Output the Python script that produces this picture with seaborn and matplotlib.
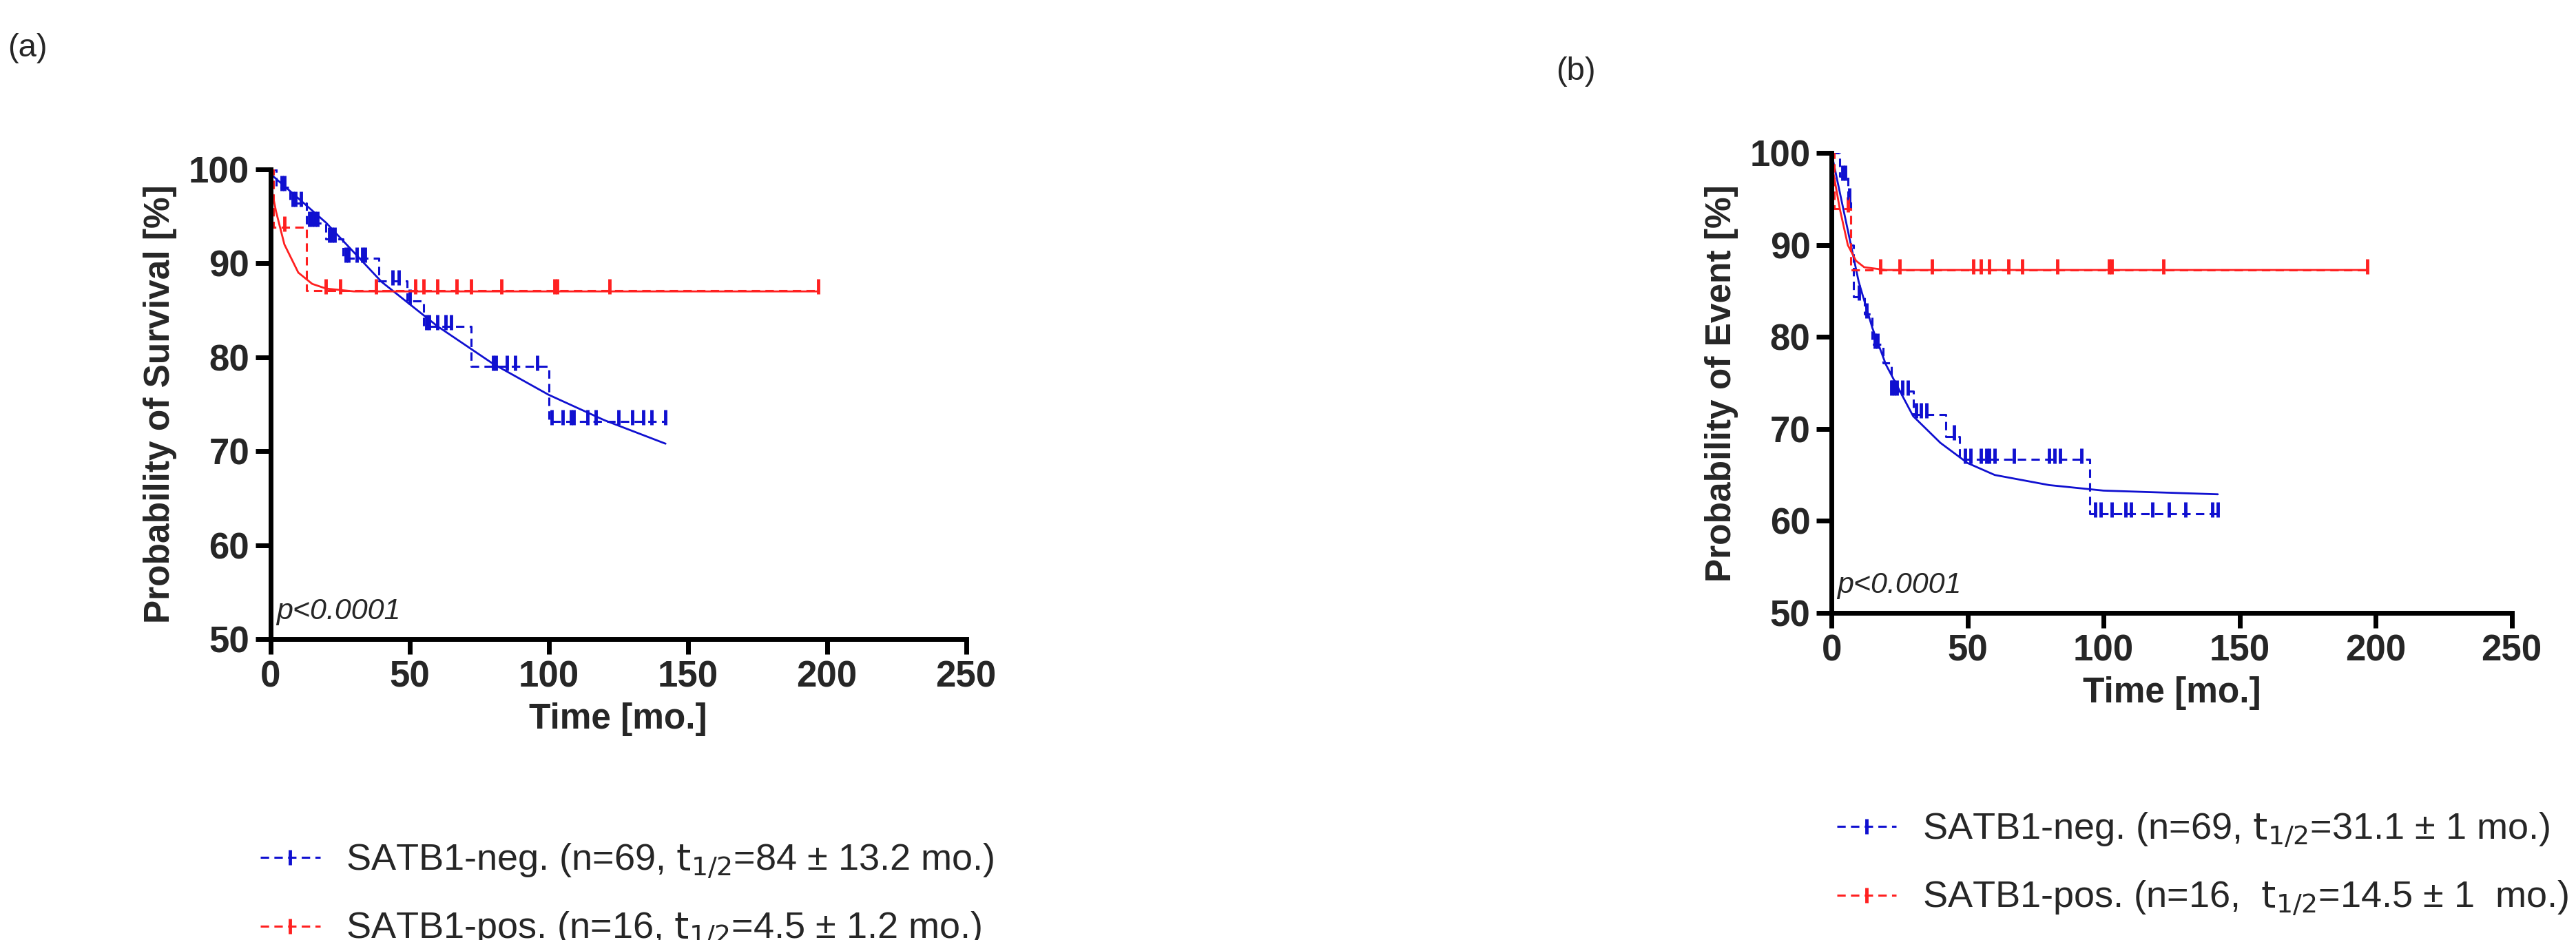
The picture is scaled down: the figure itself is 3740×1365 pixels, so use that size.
import matplotlib
matplotlib.use("Agg")
import matplotlib.pyplot as plt
import seaborn as sns
import pandas as pd
from matplotlib.lines import Line2D

sns.set_theme(style="ticks")
plt.rcParams['font.family'] = ['Arial', 'Liberation Sans', 'DejaVu Sans']

BLUE = "#1010d0"
RED = "#ff2020"

# ---- Panel (a): survival ----
a_neg_t = [0, 2, 7, 13, 20, 26, 39, 49, 55, 72, 100, 142]
a_neg_s = [100, 98.1, 96.4, 94.3, 92.6, 90.5, 88.1, 86.0, 83.3, 79.0, 73.2, 73.2]
a_neg_cens_t = [4, 5, 8, 9, 11, 14, 15, 16, 17, 21, 22, 23, 27, 28, 31, 33, 34, 44, 46, 50, 56, 57, 60, 63, 65, 80, 81, 85, 88, 96,
                101, 105, 108, 109, 114, 117, 125, 130, 134, 137, 142]
a_neg_cens_s = [98.1, 98.1, 96.4, 96.4, 96.4, 94.3, 94.3, 94.3, 94.3, 92.6, 92.6, 92.6, 90.5, 90.5, 90.5, 90.5, 90.5, 88.1, 88.1,
                86.0, 83.3, 83.3, 83.3, 83.3, 83.3, 79.0, 79.0, 79.0, 79.0, 79.0,
                73.2, 73.2, 73.2, 73.2, 73.2, 73.2, 73.2, 73.2, 73.2, 73.2, 73.2]
a_pos_t = [0, 1, 13, 197]
a_pos_s = [100, 93.8, 87.1, 87.1]
a_pos_cens_t = [5, 20, 25, 38, 52, 55, 60, 67, 72, 83, 102, 103, 122, 197]
a_pos_cens_s = [93.8] + [87.1] * 13
a_neg_fit_t = [0, 20, 40, 60, 80, 100, 120, 142]
a_neg_fit_s = [99.5, 94.3, 88.0, 83.3, 79.3, 76.0, 73.3, 70.8]
a_pos_fit_t = [0, 2, 5, 10, 15, 20, 30, 60, 197]
a_pos_fit_s = [98.5, 95.5, 92.0, 89.0, 87.8, 87.3, 87.0, 87.0, 87.0]

# ---- Panel (b): event ----
b_neg_t = [0, 3, 6, 7, 8, 12, 15, 19, 22, 30, 42, 47, 95, 143]
b_neg_s = [100, 97.5, 95.0, 90.0, 84.4, 82.5, 79.2, 77.2, 74.1, 71.6, 69.2, 66.7, 60.8, 60.8]
b_neg_cens_t = [4, 5, 6.5, 10, 13, 16, 17, 22, 23, 24, 26, 28, 31, 33, 35, 45,
                49, 51, 55, 57, 58, 60, 67, 80, 82, 84, 92,
                97, 99, 103, 108, 110, 118, 124, 130, 140, 142]
b_neg_cens_s = [97.5, 97.5, 95.0, 84.4, 82.5, 79.2, 79.2, 74.1, 74.1, 74.1, 74.1, 74.1, 71.6, 71.6, 71.6, 69.2,
                66.7, 66.7, 66.7, 66.7, 66.7, 66.7, 66.7, 66.7, 66.7, 66.7, 66.7,
                60.8, 60.8, 60.8, 60.8, 60.8, 60.8, 60.8, 60.8, 60.8, 60.8]
b_pos_t = [0, 1, 7, 197]
b_pos_s = [100, 94.0, 87.3, 87.3]
b_pos_cens_t = [6, 18, 25, 37, 52, 55, 58, 65, 70, 83, 102, 103, 122, 197]
b_pos_cens_s = [94.0] + [87.3] * 13
b_neg_fit_t = [0, 5, 10, 15, 20, 30, 40, 50, 60, 80, 100, 142]
b_neg_fit_s = [100, 93.0, 86.0, 81.0, 77.0, 71.4, 68.5, 66.3, 65.0, 63.9, 63.3, 62.9]
b_pos_fit_t = [0, 3, 6, 9, 12, 20, 60, 197]
b_pos_fit_s = [99, 94.0, 90.0, 88.3, 87.6, 87.3, 87.3, 87.3]

xticks = [0, 50, 100, 150, 200, 250]
yticks = [50, 60, 70, 80, 90, 100]

fig = plt.figure(figsize=(37.4, 13.65), dpi=100)
ax_a = fig.add_axes([0.105, 0.320, 0.270, 0.500])
ax_b = fig.add_axes([0.711, 0.348, 0.264, 0.489])


def draw(ax, neg, pos, ylabel, legend_labels, leg_pos):
    for (st, ss, ct, cs, ft, fs), col in ((neg, BLUE), (pos, RED)):
        sns.lineplot(x=st, y=ss, ax=ax, color=col, lw=2.2, linestyle=(0, (4, 2.5)),
                     drawstyle="steps-post", estimator=None, sort=False)
        sns.scatterplot(x=ct, y=[v + 0.4 for v in cs], ax=ax, color=col, marker="|",
                        s=250, linewidth=3.5)
        sns.lineplot(x=ft, y=fs, ax=ax, color=col, lw=2.0, estimator=None, sort=False)
    ax.set_xlim(0, 250)
    ax.set_ylim(50, 100)
    ax.set_xticks(xticks)
    ax.set_yticks(yticks)
    for s in ("top", "right"):
        ax.spines[s].set_visible(False)
    for s in ("left", "bottom"):
        ax.spines[s].set_linewidth(5)
        ax.spines[s].set_color("black")
    ax.tick_params(width=5, length=16, labelsize=38, color="black", pad=6)
    for lab in ax.get_xticklabels() + ax.get_yticklabels():
        lab.set_fontweight("bold")
    ax.set_xlabel("Time [mo.]", fontsize=37, fontweight="bold", labelpad=8)
    ax.set_ylabel(ylabel, fontsize=37, fontweight="bold", labelpad=12)
    ax.text(2, 51.5, "p<0.0001", fontsize=31, style="italic", ha="left", va="bottom")
    handles = [Line2D([0], [0], color=BLUE, lw=2.2, linestyle=(0, (4, 2.5)), marker="|",
                      markersize=16, markeredgewidth=3.5),
               Line2D([0], [0], color=RED, lw=2.2, linestyle=(0, (4, 2.5)), marker="|",
                      markersize=16, markeredgewidth=3.5)]
    fig.legend(handles, legend_labels, loc="upper left", bbox_to_anchor=leg_pos,
               frameon=False, fontsize=39, handlelength=1.6, labelspacing=0.8,
               numpoints=1, handletextpad=0.7)


draw(ax_a,
     (a_neg_t, a_neg_s, a_neg_cens_t, a_neg_cens_s, a_neg_fit_t, a_neg_fit_s),
     (a_pos_t, a_pos_s, a_pos_cens_t, a_pos_cens_s, a_pos_fit_t, a_pos_fit_s),
     "Probability of Survival [%]",
     ["SATB1-neg. (n=69, $\\mathrm{t}_{1/2}$=84 ± 13.2 mo.)", "SATB1-pos. (n=16, $\\mathrm{t}_{1/2}$=4.5 ± 1.2 mo.)"],
     (0.088, 0.14))
draw(ax_b,
     (b_neg_t, b_neg_s, b_neg_cens_t, b_neg_cens_s, b_neg_fit_t, b_neg_fit_s),
     (b_pos_t, b_pos_s, b_pos_cens_t, b_pos_cens_s, b_pos_fit_t, b_pos_fit_s),
     "Probability of Event [%]",
     ["SATB1-neg. (n=69, $\\mathrm{t}_{1/2}$=31.1 ± 1 mo.)", "SATB1-pos. (n=16,  $\\mathrm{t}_{1/2}$=14.5 ± 1  mo.)"],
     (0.700, 0.173))

fig.text(0.003, 0.965, "(a)", fontsize=34, ha="left", va="top")
fig.text(0.604, 0.940, "(b)", fontsize=34, ha="left", va="top")

fig.savefig("out.png", dpi=100)
